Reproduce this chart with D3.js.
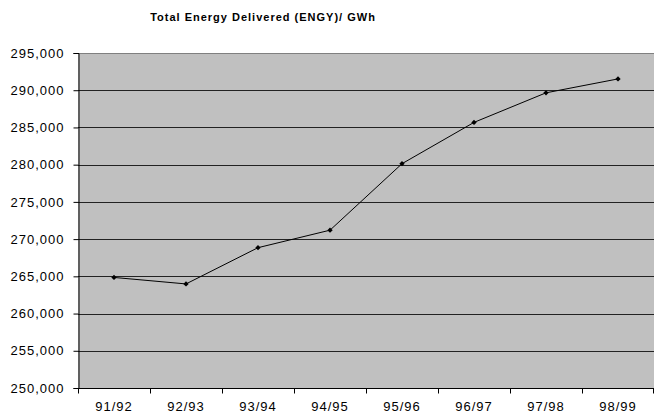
<!DOCTYPE html>
<html lang="en">
<head>
    <meta charset="UTF-8">
    <title>Total Energy Delivered</title>
    <script src="https://d3js.org/d3.v7.min.js"></script>
    <style>
        body { margin: 0; background: #fff; }
        text { font-family: "Liberation Sans", Arial, sans-serif; }
    </style>
</head>
<body>
    <div id="chart"></div>
    <script>
        // Data
        var years = ["91/92", "92/93", "93/94", "94/95", "95/96", "96/97", "97/98", "98/99"];
        var energy = [264850, 263980, 268850, 271200, 280130, 285680, 289650, 291520];
        var yTicks = [250000, 255000, 260000, 265000, 270000, 275000, 280000, 285000, 290000, 295000];

        // Dimensions
        var width = 655, height = 414;
        var margin = { top: 53, right: 1, bottom: 26, left: 78 };

        var svg = d3.select("#chart")
            .append("svg")
            .attr("width", width)
            .attr("height", height);

        var x = d3.scaleBand()
            .domain(years)
            .range([margin.left, width - margin.right]);

        var y = d3.scaleLinear()
            .domain([250000, 295000])
            .range([height - margin.bottom, margin.top]);

        // plot background
        svg.append("rect")
            .attr("x", margin.left)
            .attr("y", margin.top)
            .attr("width", width - margin.left - margin.right)
            .attr("height", height - margin.top - margin.bottom)
            .attr("fill", "#c0c0c0");

        // gridlines
        svg.append("g")
            .selectAll("line")
            .data(yTicks.slice(1, -1))
            .enter()
            .append("line")
            .attr("x1", margin.left)
            .attr("x2", width - margin.right)
            .attr("y1", function (d) { return Math.round(y(d)) + 0.5; })
            .attr("y2", function (d) { return Math.round(y(d)) + 0.5; })
            .attr("stroke", "#222")
            .attr("stroke-width", 1);

        // top border
        svg.append("line")
            .attr("x1", margin.left)
            .attr("x2", width - margin.right)
            .attr("y1", Math.round(y(295000)) + 0.5)
            .attr("y2", Math.round(y(295000)) + 0.5)
            .attr("stroke", "#808080");

        // y axis
        var yAxis = svg.append("g")
            .attr("transform", "translate(" + (margin.left + 0.5) + ",0)")
            .call(d3.axisLeft(y).tickValues(yTicks).tickSize(5).tickPadding(9)
                .tickFormat(d3.format(",")));

        // x axis with ticks between categories
        var xAxis = svg.append("g")
            .attr("transform", "translate(0," + (Math.round(y(250000)) + 0.5) + ")");
        xAxis.append("line")
            .attr("x1", margin.left)
            .attr("x2", width - margin.right)
            .attr("stroke", "#000");
        xAxis.selectAll(".xtick")
            .data(years)
            .enter()
            .append("line")
            .attr("class", "xtick")
            .attr("x1", function (d) { return Math.round(x(d)) + 0.5; })
            .attr("x2", function (d) { return Math.round(x(d)) + 0.5; })
            .attr("y1", 0)
            .attr("y2", 5)
            .attr("stroke", "#000");
        xAxis.append("line")
            .attr("x1", width - margin.right - 0.5)
            .attr("x2", width - margin.right - 0.5)
            .attr("y1", 0)
            .attr("y2", 5)
            .attr("stroke", "#000");
        xAxis.selectAll(".xlabel")
            .data(years)
            .enter()
            .append("text")
            .attr("class", "xlabel")
            .attr("x", function (d) { return x(d) + x.bandwidth() / 2; })
            .attr("y", 22)
            .attr("text-anchor", "middle")
            .attr("font-size", "13px")
            .attr("letter-spacing", "1px")
            .attr("fill", "#000")
            .text(function (d) { return d; });

        yAxis.select(".domain").attr("stroke", "#000");
        yAxis.selectAll(".tick line").attr("stroke", "#000");
        yAxis.selectAll(".tick text")
            .attr("font-size", "13px")
            .attr("letter-spacing", "1px")
            .attr("font-family", "Liberation Sans, Arial, sans-serif")
            .attr("fill", "#000");

        // line
        var line = d3.line()
            .x(function (d, i) { return x(years[i]) + x.bandwidth() / 2; })
            .y(function (d) { return y(d); });

        svg.append("path")
            .datum(energy)
            .attr("d", line)
            .attr("fill", "none")
            .attr("stroke", "#000")
            .attr("stroke-width", 1);

        // diamond markers
        svg.append("g")
            .selectAll("path")
            .data(energy)
            .enter()
            .append("path")
            .attr("d", d3.symbol().type(d3.symbolDiamond2).size(18))
            .attr("transform", function (d, i) {
                return "translate(" + (x(years[i]) + x.bandwidth() / 2) + "," + y(d) + ")";
            })
            .attr("fill", "#000");

        // title
        svg.append("text")
            .attr("x", 263)
            .attr("y", 21)
            .attr("text-anchor", "middle")
            .attr("font-size", "11px")
            .attr("font-weight", "bold")
            .attr("letter-spacing", "1px")
            .attr("fill", "#000")
            .text("Total Energy Delivered (ENGY)/ GWh");
    </script>
</body>
</html>
